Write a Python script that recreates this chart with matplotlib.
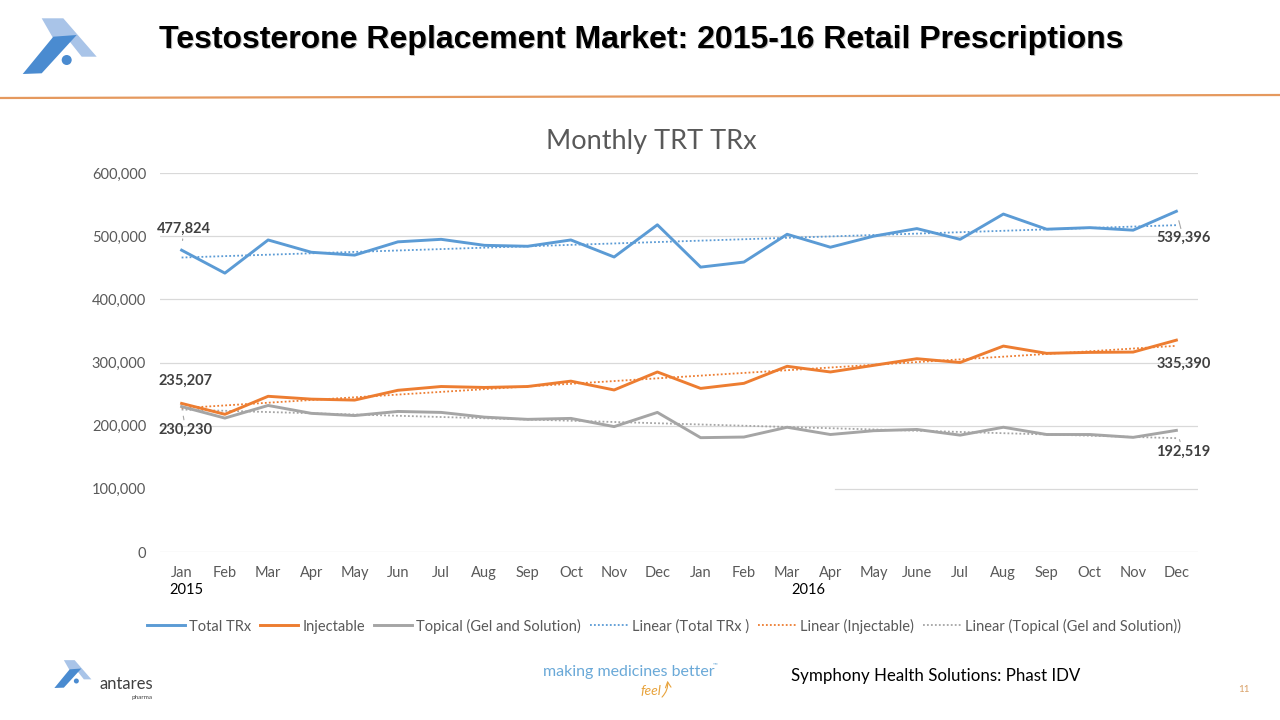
"""
Monthly TRT TRx slide: 2015-16 retail prescriptions (Total, Injectable, Topical)
with dotted linear trendlines.
"""
import numpy as np
import matplotlib
matplotlib.use('Agg')
import matplotlib.pyplot as plt
from matplotlib.patches import Polygon, Circle
from matplotlib.lines import Line2D

# ─────────────────────────────────────────────
# Data
# ─────────────────────────────────────────────
MONTHS = ["Jan", "Feb", "Mar", "Apr", "May", "Jun", "Jul", "Aug", "Sep", "Oct", "Nov", "Dec",
          "Jan", "Feb", "Mar", "Apr", "May", "June", "Jul", "Aug", "Sep", "Oct", "Nov", "Dec"]
YEARS = ["2015", "2016"]
YEAR_POS = [0.1, 14.5]

total_trx = [477824, 441500, 494000, 474500, 470000, 491000, 495000, 485500, 484000, 494000, 467000, 518000,
             451000, 459000, 503000, 482500, 500000, 512000, 495000, 535000, 511000, 513500, 509500, 539396]
injectable = [235207, 218000, 246500, 242000, 240500, 256000, 262000, 260500, 262000, 270500, 256500, 285000,
              259000, 267000, 294000, 285000, 295500, 306000, 300000, 326000, 314500, 316000, 316500, 335390]
topical = [230230, 212000, 232000, 219500, 216000, 222500, 221000, 213500, 210000, 211500, 198500, 221000,
           181000, 182000, 197500, 186000, 192000, 194000, 185000, 197500, 186000, 186000, 181500, 192519]

SERIES = ["Total TRx", "Injectable", "Topical (Gel and Solution)"]
TREND_NAMES = ["Linear (Total TRx )", "Linear (Injectable)", "Linear (Topical (Gel and Solution))"]
COLORS = ["#5B9BD5", "#ED7D31", "#A5A5A5"]
YTICKS = [0, 100000, 200000, 300000, 400000, 500000, 600000]

FONT = "Lato"
GRID = "#D9D9D9"
TXT = "#595959"

fig = plt.figure(figsize=(12.8, 7.2), dpi=100)
fig.patch.set_facecolor("white")

# ─────────────────────────────────────────────
# Slide decorations in pixel coords
# ─────────────────────────────────────────────
bg = fig.add_axes([0, 0, 1, 1], zorder=0)
bg.set_xlim(0, 1280)
bg.set_ylim(720, 0)
bg.axis("off")


def draw_logo(ax, ox, oy, s):
    light = [(41.7, 18.3), (63.3, 18.3), (96.7, 56.7), (81.7, 56.7), (70, 42), (53, 38)]
    dark = [(22.7, 74), (41.7, 73.3), (76.7, 35), (53.3, 36.7)]
    tr = lambda pts: [(ox + (x - 20) * s, oy + (y - 18) * s) for x, y in pts]
    ax.add_patch(Polygon(tr(light), closed=True, color="#A9C4E8", lw=0))
    ax.add_patch(Polygon(tr(dark), closed=True, color="#4A8BD0", lw=0))
    cx, cy = tr([(66.7, 60)])[0]
    ax.add_patch(Circle((cx, cy), 5 * s, color="#4A8BD0", lw=0))


draw_logo(bg, 20, 18, 1.0)
draw_logo(bg, 53, 660, 0.5)

# title with soft shadow
title = "Testosterone Replacement Market: 2015-16 Retail Prescriptions"
bg.text(642.5, 41.5, title, ha="center", va="center", fontsize=23, fontweight="bold",
        family="Liberation Sans", color="#BDBDBD")
bg.text(641, 40, title, ha="center", va="center", fontsize=23, fontweight="bold",
        family="Liberation Sans", color="black")
bg.plot([0, 1280], [98, 95], color="#E5995E", lw=1.6)

bg.text(651, 142, "Monthly TRT TRx", ha="center", va="center", fontsize=19.5, color=TXT, family=FONT)

# footer
bg.text(100, 684, "antares", ha="left", va="center", fontsize=12, color="#404040", family=FONT)
bg.text(131, 697, "pharma", ha="left", va="center", fontsize=4.5, color="#404040", family=FONT)
bg.text(543, 672, "making medicines better", ha="left", va="center", fontsize=11.5,
        color="#6AA9D8", family=FONT)
bg.text(713, 665, "™", ha="left", va="center", fontsize=4.5, color="#6AA9D8", family=FONT)
bg.text(640, 691, "feel", ha="left", va="center", fontsize=10, color="#E8A33C",
        family=FONT, style="italic")
bg.annotate("", xy=(667, 678), xytext=(660, 699),
            arrowprops=dict(arrowstyle="->", color="#E8A33C", lw=0.8, connectionstyle="arc3,rad=0.3"))
bg.text(791, 676, "Symphony Health Solutions: Phast IDV", ha="left", va="center",
        fontsize=12.2, color="black", family=FONT)
bg.text(1244, 690, "11", ha="center", va="center", fontsize=7, color="#D9A066", family=FONT)

# ─────────────────────────────────────────────
# Chart
# ─────────────────────────────────────────────
ax = fig.add_axes([160 / 1280, 1 - 552 / 720, (1198 - 160) / 1280, (552 - 173) / 720], zorder=2)
ax.patch.set_alpha(0)
x = np.arange(len(MONTHS))

# gridlines (the 100,000 line is only partly visible on the slide)
for yv in YTICKS:
    if yv == 100000:
        ax.axhline(yv, xmin=(835 - 160) / 1038, xmax=1, color=GRID, lw=0.9, zorder=0)
    else:
        ax.axhline(yv, color=GRID, lw=0.9, zorder=0)

all_series = [total_trx, injectable, topical]
for vals, name, tname, c in zip(all_series, SERIES, TREND_NAMES, COLORS):
    ax.plot(x, vals, color=c, lw=2.1, solid_joinstyle="round", zorder=3)
    k, b = np.polyfit(x, vals, 1)
    ax.plot(x, k * x + b, color=c, lw=1.3, ls=(0, (1, 1.2)), zorder=2)

ax.set_xlim(-0.5, len(MONTHS) - 0.5)
ax.set_ylim(0, 600000)
ax.set_yticks(YTICKS)
ax.set_yticklabels([f"{v:,}" for v in YTICKS], color=TXT, fontsize=10.5, family=FONT)
ax.set_xticks(x)
ax.set_xticklabels(MONTHS, color=TXT, fontsize=10.5, family=FONT)
ax.tick_params(length=0, axis="y", pad=10)
ax.tick_params(length=0, axis="x", pad=10)
for sp in ax.spines.values():
    sp.set_visible(False)

for yr, pos in zip(YEARS, YEAR_POS):
    ax.annotate(yr, xy=(pos, 0), xytext=(0, -38), textcoords="offset pixels",
                ha="center", va="center", fontsize=10.5, color="black", family=FONT)

# data labels on first/last points
lead = dict(arrowstyle="-", color="#A6A6A6", lw=0.8, shrinkA=0, shrinkB=7)
labels = [
    (0, total_trx[0], (2, 21), True),
    (0, injectable[0], (4, 23), False),
    (0, topical[0], (4, -23), True),
    (23, total_trx[-1], (7, -27), True),
    (23, injectable[-1], (7, -24), False),
    (23, topical[-1], (7, -21), True),
]
for xi, v, off, has_line in labels:
    ax.annotate(f"{v:,}", xy=(xi, v), xytext=off, textcoords="offset pixels",
                ha="center", va="center", fontsize=10.5, fontweight="bold",
                color="#404040", family=FONT,
                arrowprops=lead if has_line else None, zorder=5)

# legend
handles = [Line2D([], [], color=c, lw=2.1) for c in COLORS] + \
          [Line2D([], [], color=c, lw=1.3, ls=(0, (1, 1.2))) for c in COLORS]
fig.legend(handles, SERIES + TREND_NAMES, loc="center", bbox_to_anchor=(664 / 1280, 1 - 626 / 720),
           ncol=6, frameon=False, handlelength=2.6, handletextpad=0.3, columnspacing=0.6,
           prop={"family": FONT, "size": 10.5}, labelcolor=TXT)

fig.savefig("out.png", dpi=100, facecolor="white")
plt.close(fig)
